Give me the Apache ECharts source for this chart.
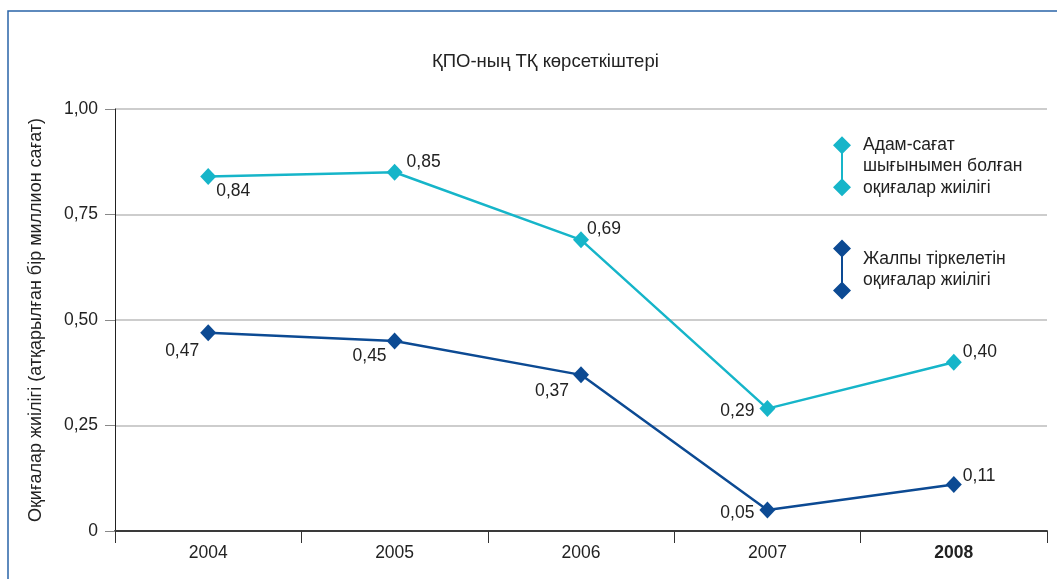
<!DOCTYPE html>
<html><head><meta charset="utf-8">
<script src="https://cdn.jsdelivr.net/npm/echarts@6/dist/echarts.min.js"></script>
<style>html,body{margin:0;padding:0;background:#fff}#c{width:1057px;height:579px}</style>
</head><body><div id="c"></div>
<script>
const years = ['2004', '2005', '2006', '2007', '2008'];
const lostTimeRate = [0.84, 0.85, 0.69, 0.29, 0.40];
const totalRecordableRate = [0.47, 0.45, 0.37, 0.05, 0.11];
const seriesNames = ['Адам-сағат\nшығынымен болған\nоқиғалар жиілігі', 'Жалпы тіркелетін\nоқиғалар жиілігі'];
const titleText = 'ҚПО-ның ТҚ көрсеткіштері';
const yAxisTitle = 'Оқиғалар жиілігі (атқарылған бір миллион сағат)';

// label placement (styling only)
const cyanLabelPos = [['right', [-5, 15]], ['right', [-1, -10]], ['right', [-7, -11]], ['left', [0, 3]], ['right', [-4, -10]]];
const blueLabelPos = [['left', [4, 19]], ['left', [5, 15]], ['left', [1, 16]], ['left', [0, 3]], ['right', [-4, -8]]];

const FONT = '"Liberation Sans", Arial, sans-serif';
const FS = 17.5;
const CYAN = '#16b5c9';
const BLUE = '#0c4a93';
const fmt = v => v === 0 ? '0' : v.toFixed(2).replace('.', ',');
const iconPath = 'path://M9 0 L18 9 L9 18 L0 9 Z M8 9 L10 9 L10 51 L8 51 Z M9 42 L18 51 L9 60 L0 51 Z';

function mk(vals, pos) {
  return vals.map((v, i) => ({
    value: v,
    label: { position: pos[i][0], offset: pos[i][1] }
  }));
}

const chart = echarts.init(document.getElementById('c'), null, { renderer: 'canvas' });
chart.setOption({
  animation: false,
  backgroundColor: '#fff',
  textStyle: { fontFamily: FONT },
  title: {
    text: titleText, left: 427, top: 47,
    textStyle: { fontFamily: FONT, fontSize: 18.5, fontWeight: 'normal', color: '#222' }
  },
  graphic: [{
    type: 'rect', silent: true, z: -1,
    shape: { x: 8, y: 11, width: 1200, height: 800 },
    style: { fill: 'none', stroke: '#2a64a8', lineWidth: 1.5 }
  }],
  legend: {
    orient: 'vertical', left: 828, top: 129,
    itemWidth: 18, itemHeight: 60, itemGap: 41,
    data: [
      { name: seriesNames[0], icon: iconPath },
      { name: seriesNames[1], icon: iconPath }
    ],
    textStyle: { fontFamily: FONT, fontSize: FS, color: '#222', lineHeight: 21.5, padding: [0, 0, 0, 7] }
  },
  grid: { left: 115, right: 10, top: 109, bottom: 48 },
  xAxis: {
    type: 'category', data: years, boundaryGap: true,
    axisLine: { lineStyle: { color: '#3a3a3a', width: 2 } },
    axisTick: { show: true, length: 12, lineStyle: { color: '#333', width: 1 } },
    axisLabel: {
      margin: 13, fontSize: FS, color: '#222', fontFamily: FONT,
      formatter: (v, i) => i === years.length - 1 ? '{b|' + v + '}' : v,
      rich: { b: { fontWeight: 'bold', fontSize: FS, fontFamily: FONT, color: '#222' } }
    }
  },
  yAxis: {
    type: 'value', min: 0, max: 1, interval: 0.25,
    name: yAxisTitle, nameLocation: 'middle', nameGap: 70, nameRotate: 90,
    nameTextStyle: { fontFamily: FONT, fontSize: 18, color: '#222' },
    axisLine: { show: true, lineStyle: { color: '#222', width: 1 } },
    axisTick: { show: true, length: 10, lineStyle: { color: '#888' } },
    splitLine: { lineStyle: { color: '#bcbcbc', width: 1.5 } },
    axisLabel: { fontSize: FS, color: '#222', fontFamily: FONT, margin: 17, formatter: fmt }
  },
  series: [
    {
      name: seriesNames[0], type: 'line', data: mk(lostTimeRate, cyanLabelPos),
      symbol: 'diamond', symbolSize: [16, 17], color: CYAN,
      lineStyle: { color: CYAN, width: 2.5 }, itemStyle: { color: CYAN },
      label: { show: true, fontSize: FS, color: '#222', fontFamily: FONT, formatter: p => fmt(p.value) }
    },
    {
      name: seriesNames[1], type: 'line', data: mk(totalRecordableRate, blueLabelPos),
      symbol: 'diamond', symbolSize: [16, 17], color: BLUE,
      lineStyle: { color: BLUE, width: 2.5 }, itemStyle: { color: BLUE },
      label: { show: true, fontSize: FS, color: '#222', fontFamily: FONT, formatter: p => fmt(p.value) }
    }
  ]
});
</script></body></html>
